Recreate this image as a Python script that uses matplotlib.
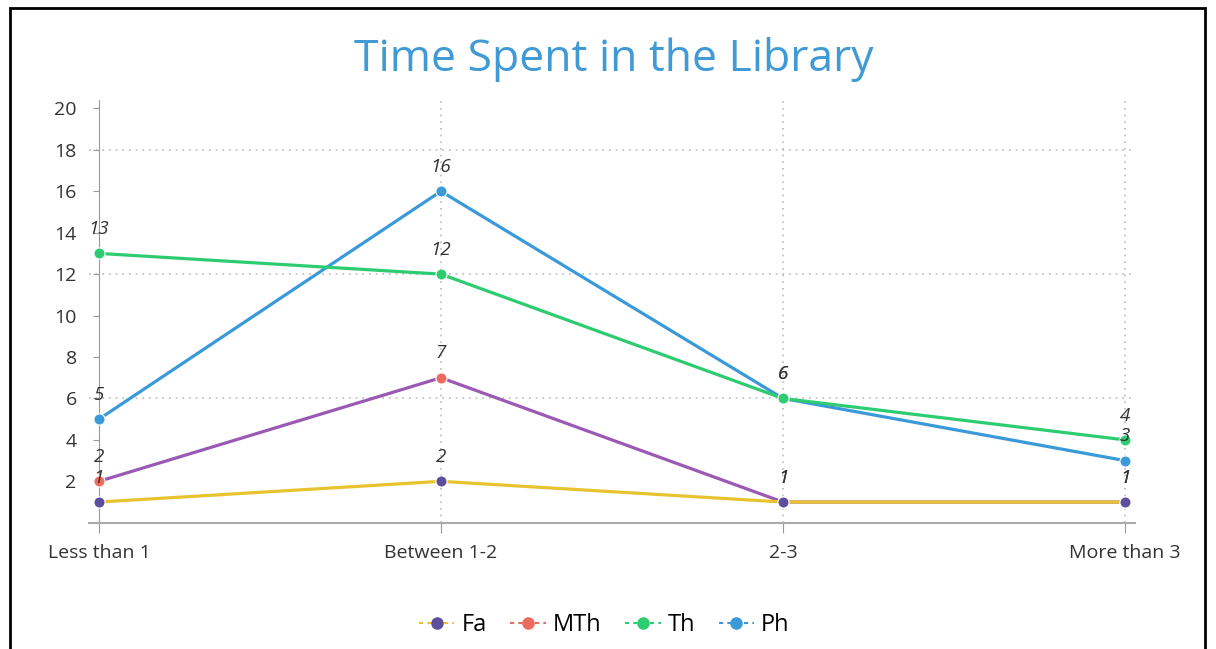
import matplotlib.pyplot as plt
from matplotlib.lines import Line2D
from matplotlib.patches import Rectangle

plt.rcParams['font.family'] = ['Open Sans', 'DejaVu Sans']

categories = ['Less than 1', 'Between 1-2', '2-3', 'More than 3']
fa = [1, 2, 1, 1]
mth = [2, 7, 1, 1]
th = [13, 12, 6, 4]
ph = [5, 16, 6, 3]

# (name, values, line colour, marker colour) in drawing order
series = [
    ('Ph', ph, '#3a9ad9', '#3a9ad9'),
    ('MTh', mth, '#9b59b6', '#ec6b5e'),
    ('Fa', fa, '#e8c330', '#5d4f9e'),
    ('Th', th, '#2ecc71', '#2ecc71'),
]
legend_order = ['Fa', 'MTh', 'Th', 'Ph']

fig = plt.figure(figsize=(12.16, 6.49), dpi=100)
ax = fig.add_axes([0.0729, 0.1945, 0.8607, 0.6513])
x = list(range(len(categories)))

for i, (name, vals, lc, mc) in enumerate(series):
    ax.plot(x, vals, '-', color=lc, lw=2.3, zorder=3 + i)
    ax.plot(x, vals, 'o', color=mc, ms=8, mec='white', mew=0.8, zorder=3 + i)
    for xi, v in zip(x, vals):
        ax.annotate(str(v), (xi, v), xytext=(0, 11), textcoords='offset points',
                    ha='center', va='bottom', fontsize=13.5, style='italic',
                    color='#333333', zorder=10)

ax.set_xlim(-0.03, 3.03)
ax.set_ylim(0, 20.4)
ax.set_xticks(x)
ax.set_xticklabels(categories, fontsize=14, color='#333333')
ax.set_yticks(range(2, 21, 2))
ax.tick_params(axis='y', labelsize=14, colors='#333333', length=4, color='#999999', pad=12)
ax.tick_params(axis='x', length=7, color='#999999', pad=8)

for s in ['top', 'right']:
    ax.spines[s].set_visible(False)
ax.spines['left'].set_position(('data', 0))
ax.spines['left'].set_color('#999999')
ax.spines['bottom'].set_color('#aaaaaa')
ax.spines['bottom'].set_linewidth(1.5)

for gy in [6, 12, 18]:
    ax.axhline(gy, color='#bbbbbb', lw=1.2, ls=(0, (1, 3)), zorder=1)
for gx in x[1:]:
    ax.axvline(gx, color='#bbbbbb', lw=1.2, ls=(0, (1, 3)), zorder=1)

fig.text(0.505, 0.908, 'Time Spent in the Library', ha='center', va='center',
         fontsize=32, color='#3f9ad6')

handles = []
labels = []
for name in legend_order:
    for n, vals, lc, mc in series:
        if n == name:
            if name == 'Fa':
                lc_leg = '#e8c330'
            else:
                lc_leg = mc
            handles.append(Line2D([], [], color=lc_leg, ls=(0, (2, 2)), lw=1.5,
                                  marker='o', mfc=mc, mec=mc, ms=8))
            labels.append(name)
fig.legend(handles, labels, loc='center', bbox_to_anchor=(0.497, 0.037), ncol=4,
           frameon=False, fontsize=17, handlelength=1.5, columnspacing=1.0,
           handletextpad=0.3)

fig.patches.append(Rectangle((10 / 1216, -0.02), 1195 / 1216, 1.02 - 8 / 649,
                             transform=fig.transFigure, fill=False,
                             edgecolor='black', lw=2))

fig.savefig('out.png', dpi=100)
